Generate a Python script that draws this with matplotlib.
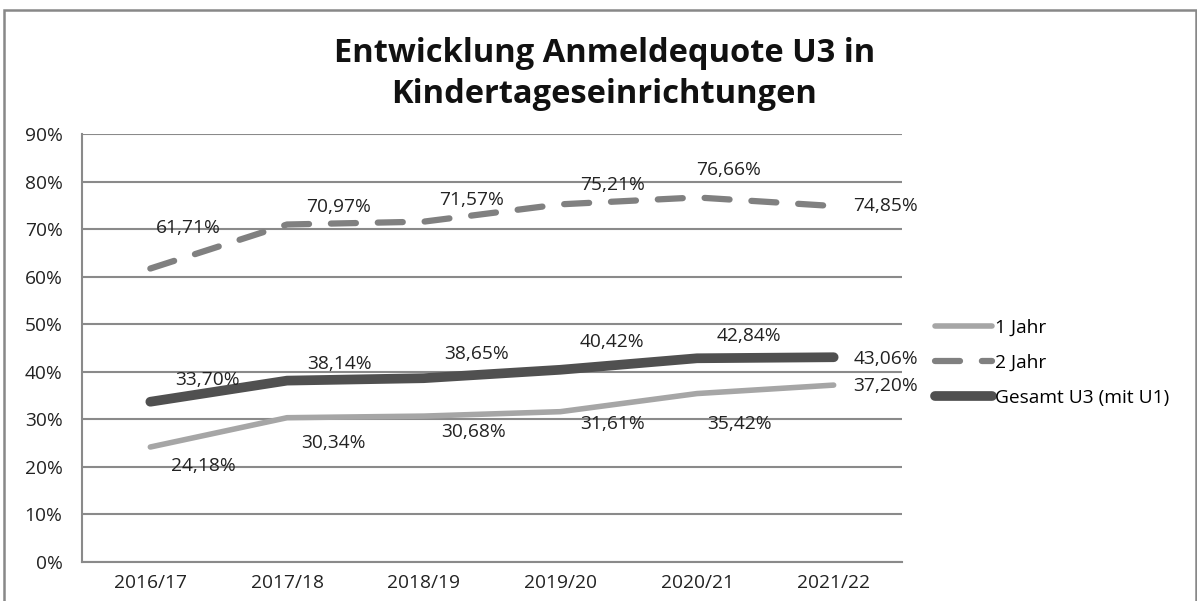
import matplotlib
matplotlib.use("Agg")
import matplotlib.pyplot as plt
from matplotlib.patches import Rectangle

categories = ["2016/17", "2017/18", "2018/19", "2019/20", "2020/21", "2021/22"]
jahr1 = [24.18, 30.34, 30.68, 31.61, 35.42, 37.20]
jahr2 = [61.71, 70.97, 71.57, 75.21, 76.66, 74.85]
gesamt = [33.70, 38.14, 38.65, 40.42, 42.84, 43.06]
series_names = ["1 Jahr", "2 Jahr", "Gesamt U3 (mit U1)"]
yticks = [0, 10, 20, 30, 40, 50, 60, 70, 80, 90]
title = "Entwicklung Anmeldequote U3 in\nKindertageseinrichtungen"

plt.rcParams['font.family'] = ['Open Sans', 'DejaVu Sans']

W, H = 1197, 601
fig = plt.figure(figsize=(W / 100, H / 100), dpi=100)
fig.patch.set_facecolor("white")

# outer chart frame
fig.add_artist(Rectangle((4 / W, -0.05), (W - 5) / W, 1.05 - 10 / H,
                         transform=fig.transFigure, fill=False,
                         edgecolor="#888888", linewidth=1.8))

ax = fig.add_axes([82 / W, (H - 562) / H, (902 - 82) / W, (562 - 134) / H])
x = list(range(len(categories)))

FS = 13.8
ax.set_xlim(-0.5, len(categories) - 0.5)
ax.set_ylim(0, 90)
ax.set_yticks(yticks)
ax.set_yticklabels([f"{v}%" for v in yticks], fontsize=FS, color="#222222")
ax.set_xticks(x)
ax.set_xticklabels(categories, fontsize=FS, color="#222222")
ax.tick_params(axis="both", length=0)
ax.tick_params(axis="y", pad=14)
ax.tick_params(axis="x", pad=9)
ax.yaxis.grid(True, color="#8a8a8a", linewidth=1.5)
ax.set_axisbelow(True)
for s in ["top", "right"]:
    ax.spines[s].set_visible(False)
for s in ["left", "bottom"]:
    ax.spines[s].set_color("#8a8a8a")
    ax.spines[s].set_linewidth(1.5)

l1, = ax.plot(x, jahr1, color="#a6a6a6", linewidth=4, solid_capstyle="round", label=series_names[0])
l2, = ax.plot(x, jahr2, color="#808080", linewidth=4.5, linestyle=(0, (4, 3.5)),
              dash_capstyle="round", label=series_names[1])
l3, = ax.plot(x, gesamt, color="#505050", linewidth=7, solid_capstyle="round", label=series_names[2])

def fmt(v):
    return f"{v:.2f}".replace(".", ",") + "%"

# pixel offsets for labels (dx, dy) - dy positive upward
off1 = [(53, -20), (46, -26), (50, -17), (52, -13), (43, -31), (52, -2)]
off2 = [(38, 40), (52, 16), (48, 21), (52, 18), (32, 26), (52, -1)]
off3 = [(57, 21), (52, 16), (53, 23), (52, 27), (52, 21), (52, -3)]

for vals, offs in [(jahr1, off1), (jahr2, off2), (gesamt, off3)]:
    for xi, v, (dx, dy) in zip(x, vals, offs):
        ax.annotate(fmt(v), (xi, v), xytext=(dx, dy + 1), textcoords="offset pixels",
                    ha="center", va="center", fontsize=FS, color="#222222")

leg = fig.legend(handles=[l1, l2, l3], loc="upper left",
                 bbox_to_anchor=(925 / W, 1 - 309 / H), frameon=False,
                 fontsize=FS, handlelength=3.0, handletextpad=0.15,
                 labelspacing=0.9, borderpad=0)

fig.text(0.5 + 6 / W, 1 - 74 / H, title, ha="center", va="center",
         fontsize=23.5, fontweight="bold", color="#111111", linespacing=1.3,
         family=["Open Sans", "DejaVu Sans"])

fig.savefig("out.png", dpi=100, facecolor="white")
